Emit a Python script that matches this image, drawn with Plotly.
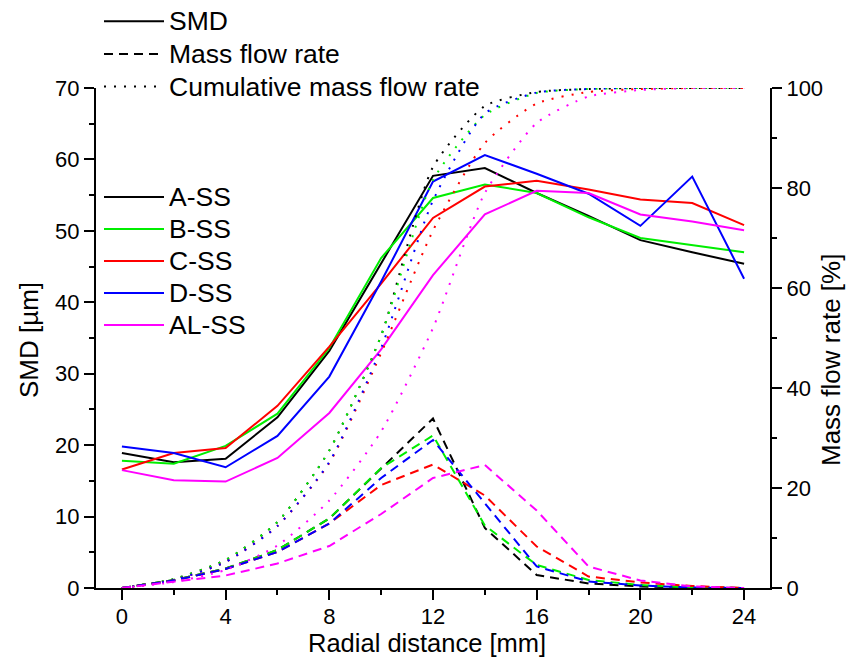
import plotly.graph_objects as go

# ---- data ----
x_mm = [0, 2, 4, 6, 8, 10, 12, 14, 16, 18, 20, 22, 24]
series_names = ["A-SS", "B-SS", "C-SS", "D-SS", "AL-SS"]
series_colors = ["#000000", "#00ee00", "#ff0000", "#0000ff", "#ff00ff"]

smd_a = [18.9, 17.6, 18.1, 23.9, 33.2, 45.5, 57.7, 58.8, 55.3, 52.1, 48.7, 47.0, 45.4]
smd_b = [17.8, 17.4, 19.9, 24.4, 33.6, 46.2, 54.6, 56.5, 55.3, 51.9, 49.0, 48.0, 47.0]
smd_c = [16.6, 18.9, 19.6, 25.5, 33.8, 42.6, 51.8, 56.2, 57.0, 55.8, 54.4, 53.9, 50.8]
smd_d = [19.8, 18.9, 16.9, 21.3, 29.6, 42.9, 56.9, 60.6, 58.0, 55.2, 50.7, 57.6, 43.3]
smd_al = [16.5, 15.1, 14.9, 18.2, 24.5, 33.4, 43.8, 52.3, 55.6, 55.3, 52.3, 51.3, 50.1]

mfr_a = [0, 1.6, 3.9, 7.6, 13.9, 24.0, 33.9, 12.0, 2.6, 0.9, 0.3, 0.1, 0]
mfr_b = [0, 1.6, 3.9, 7.6, 13.9, 24.0, 30.5, 12.5, 4.6, 1.6, 0.6, 0.1, 0]
mfr_c = [0, 1.5, 3.8, 7.2, 12.9, 20.6, 24.7, 18.5, 8.3, 2.3, 1.1, 0.4, 0]
mfr_d = [0, 1.5, 3.8, 7.2, 12.9, 22.0, 29.6, 17.0, 4.3, 1.3, 0.5, 0.1, 0]
mfr_al = [0, 1.2, 2.5, 4.9, 8.4, 14.8, 22.0, 24.6, 15.5, 4.3, 1.5, 0.3, 0]

cum_a = [0, 1.8, 5.6, 13.2, 27.5, 50.5, 84.2, 96.4, 99.2, 99.8, 100, 100, 100]
cum_b = [0, 1.8, 5.6, 13.2, 27.5, 50.5, 81.6, 94.6, 99.0, 99.8, 100, 100, 100]
cum_c = [0, 1.6, 5.2, 12.4, 25.0, 47.0, 71.5, 89.0, 96.9, 99.2, 99.8, 100, 100]
cum_d = [0, 1.6, 5.2, 12.4, 25.2, 48.0, 77.5, 94.9, 99.1, 99.8, 100, 100, 100]
cum_al = [0, 1.2, 3.6, 8.5, 17.5, 31.3, 52.0, 79.0, 93.0, 98.3, 99.6, 100, 100]

style_names = ["SMD", "Mass flow rate", "Cumulative mass flow rate"]
x_title = "Radial distance [mm]"
y_title = "SMD [µm]"
y2_title = "Mass flow rate [%]"

smd_all = [smd_a, smd_b, smd_c, smd_d, smd_al]
mfr_all = [mfr_a, mfr_b, mfr_c, mfr_d, mfr_al]
cum_all = [cum_a, cum_b, cum_c, cum_d, cum_al]

FONT = "Liberation Sans, Arial, sans-serif"
DASH = "9px,6px"
DOT = "2px,8px"
W, H = 847, 661
ML, MR, MT, MB = 96, 77, 88, 73
PW, PH = W - ML - MR, H - MT - MB
LEG_TEXT = 26.5  # visible legend text size


def big(t):
    return '<span style="font-size:%spx">%s</span>' % (LEG_TEXT, t)


fig = go.Figure()

for name, col, s, m, c in zip(series_names, series_colors, smd_all, mfr_all, cum_all):
    fig.add_trace(go.Scatter(x=x_mm, y=c, yaxis="y2", mode="lines",
                             line=dict(color=col, width=2, dash=DOT, shape="spline", smoothing=0.6),
                             showlegend=False, hoverinfo="skip"))
    fig.add_trace(go.Scatter(x=x_mm, y=m, yaxis="y2", mode="lines",
                             line=dict(color=col, width=2, dash=DASH),
                             showlegend=False, hoverinfo="skip"))

for name, col, s in zip(series_names, series_colors, smd_all):
    fig.add_trace(go.Scatter(x=x_mm, y=s, mode="lines", name=big(name),
                             line=dict(color=col, width=2), legend="legend2", hoverinfo="skip"))

for nm, dsh in zip(style_names, ["solid", DASH, DOT]):
    fig.add_trace(go.Scatter(x=[None], y=[None], mode="lines", name=big(nm),
                             line=dict(color="black", width=2, dash=dsh), legend="legend"))

axis_common = dict(showline=True, linecolor="black", linewidth=2, ticks="outside",
                   ticklen=10, tickwidth=2, tickcolor="black", showgrid=False, zeroline=False,
                   automargin=False,
                   tickfont=dict(family=FONT, size=22, color="black"))


def paper_x(px):
    return (px - ML) / PW


def paper_y(py):
    return 1 - (py - MT) / PH


annots = [
    dict(text=x_title, px=427, py=643, angle=0, size=25.5),
    dict(text=y_title, px=29, py=340, angle=-90, size=26),
    dict(text=y2_title, px=831, py=360, angle=-90, size=26),
]

fig.update_layout(
    width=W, height=H,
    margin=dict(l=ML, r=MR, t=MT, b=MB, autoexpand=False),
    paper_bgcolor="white", plot_bgcolor="white",
    font=dict(family=FONT, color="black"),
    xaxis=dict(range=[-1, 25], tickvals=[0, 4, 8, 12, 16, 20, 24], ticklabelstandoff=-2,
               minor=dict(dtick=2, tick0=0, ticks="outside", ticklen=5, tickwidth=2, tickcolor="black"),
               **axis_common),
    yaxis=dict(range=[0, 70], dtick=10,
               minor=dict(dtick=5, ticks="outside", ticklen=5, tickwidth=2, tickcolor="black"),
               **axis_common),
    yaxis2=dict(range=[0, 100], dtick=20, overlaying="y", side="right", anchor="x",
                minor=dict(dtick=10, ticks="outside", ticklen=5, tickwidth=2, tickcolor="black"),
                **axis_common),
    legend=dict(x=99 / W, y=1.0, xanchor="left", yanchor="top", xref="container", yref="container",
                bgcolor="rgba(0,0,0,0)", font=dict(family=FONT, size=22.8), itemwidth=60,
                tracegroupgap=0),
    legend2=dict(x=paper_x(99), y=paper_y(176), xanchor="left", yanchor="top",
                 bgcolor="rgba(0,0,0,0)", font=dict(family=FONT, size=22.3), itemwidth=60,
                 tracegroupgap=0),
    showlegend=True,
    annotations=[dict(text=a["text"], x=paper_x(a["px"]), y=paper_y(a["py"]),
                      xref="paper", yref="paper", textangle=a["angle"], showarrow=False,
                      xanchor="center", yanchor="middle",
                      font=dict(family=FONT, size=a["size"], color="black")) for a in annots],
)

fig.write_html("out.html")
